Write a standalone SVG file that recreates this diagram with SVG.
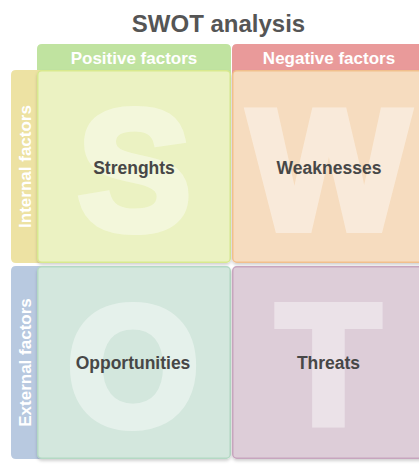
<svg xmlns="http://www.w3.org/2000/svg" width="419" height="468" viewBox="0 0 419 468">
<defs>
<filter id="sh" x="-10%" y="-10%" width="120%" height="125%">
<feDropShadow dx="0" dy="2" stdDeviation="1.5" flood-color="#000" flood-opacity="0.18"/>
</filter>
</defs>
<style>
.t{font-family:"Liberation Sans",Arial,sans-serif;font-weight:bold}
.title{font-size:24px;fill:#555555}
.hdr{font-size:17px;fill:#ffffff}
.side{font-size:17px;fill:#ffffff}
.lbl{font-size:17.5px;fill:#474747}
.big{font-size:170px;fill:#ffffff;stroke:#ffffff;stroke-width:8;stroke-linejoin:miter;opacity:0.42}
.cell{stroke-width:1.5}
</style>
<rect width="419" height="468" fill="#ffffff"/>
<g id="title"><text class="t title" x="218.5" y="32" text-anchor="middle">SWOT analysis</text></g>
<g id="header-positive">
<path d="M37,76 V49 Q37,44 42,44 H226 Q231,44 231,49 V76 Z" fill="#c0e3a0"/>
<text class="t hdr" x="134" y="63.5" text-anchor="middle">Positive factors</text>
</g>
<g id="header-negative">
<path d="M232,76 V49 Q232,44 237,44 H421 Q426,44 426,49 V76 Z" fill="#e99a9a"/>
<text class="t hdr" x="329" y="63.5" text-anchor="middle">Negative factors</text>
</g>
<g id="side-internal">
<path d="M42,70 V263 H16 Q11,263 11,258 V75 Q11,70 16,70 Z" fill="#ede2a3"/>
<text class="t side" transform="translate(30.5,166.5) rotate(-90)" text-anchor="middle">Internal factors</text>
</g>
<g id="side-external">
<path d="M42,266 V459 H16 Q11,459 11,454 V271 Q11,266 16,266 Z" fill="#b8c9e0"/>
<text class="t side" transform="translate(30.5,362.5) rotate(-90)" text-anchor="middle">External factors</text>
</g>
<g id="strengths">
<rect class="cell" x="37.75" y="70.75" width="192.5" height="191.5" rx="4" fill="#ebf2c2" stroke="#d8e98e" filter="url(#sh)"/>
<text class="t big" x="134.5" y="229" text-anchor="middle">S</text>
<text class="t lbl" x="134" y="174" text-anchor="middle">Strenghts</text>
</g>
<g id="weaknesses">
<rect class="cell" x="232.75" y="70.75" width="192.5" height="191.5" rx="4" fill="#f6dcbf" stroke="#f1bf8c" filter="url(#sh)"/>
<text class="t big" x="329" y="229" text-anchor="middle">W</text>
<text class="t lbl" x="329" y="174" text-anchor="middle">Weaknesses</text>
</g>
<g id="opportunities">
<rect class="cell" x="37.75" y="266.75" width="192.5" height="191.5" rx="4" fill="#d3e7dd" stroke="#b4d9c4" filter="url(#sh)"/>
<text class="t big" x="133" y="424.5" text-anchor="middle">O</text>
<text class="t lbl" x="133" y="369" text-anchor="middle">Opportunities</text>
</g>
<g id="threats">
<rect class="cell" x="232.75" y="266.75" width="192.5" height="191.5" rx="4" fill="#ddcdd8" stroke="#c7a5be" filter="url(#sh)"/>
<text class="t big" x="328.5" y="424" text-anchor="middle">T</text>
<text class="t lbl" x="328.5" y="369" text-anchor="middle">Threats</text>
</g>
<g id="connectors"/>
</svg>
